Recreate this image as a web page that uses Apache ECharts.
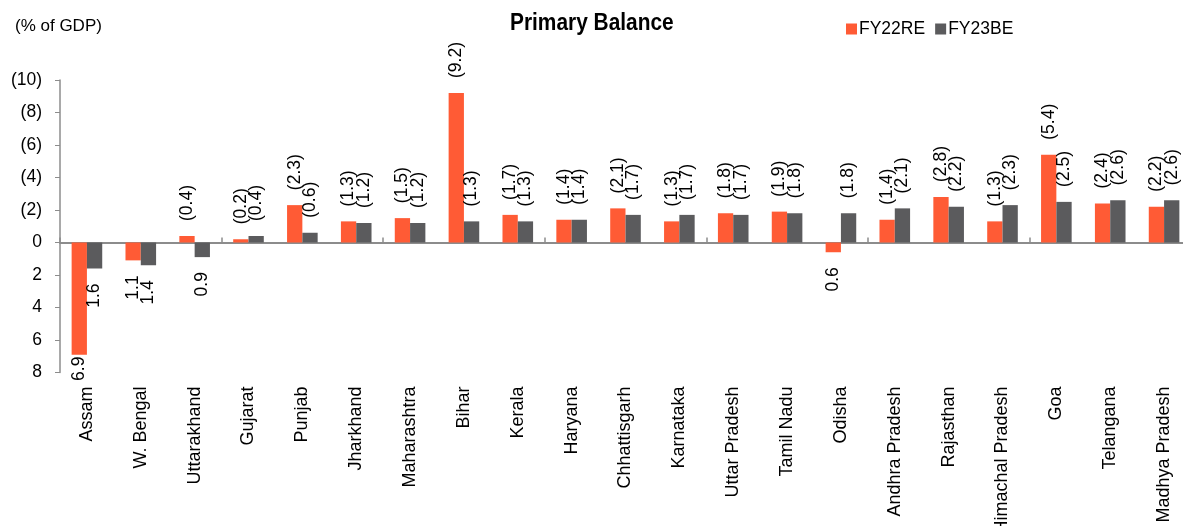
<!DOCTYPE html>
<html lang="en">
<head>
<meta charset="utf-8">
<title>Primary Balance</title>
<style>
  html, body { margin: 0; padding: 0; background: #fff; }
  #chartDiv { width: 1183px; height: 526px; }
</style>
</head>
<body>
<div id="chartDiv"></div>
<script src="https://cdn.jsdelivr.net/npm/echarts@6/dist/echarts.min.js"></script>
<script type="text/javascript">
// states on the x axis
var states = ['Assam', 'W. Bengal', 'Uttarakhand', 'Gujarat', 'Punjab', 'Jharkhand', 'Maharashtra',
  'Bihar', 'Kerala', 'Haryana', 'Chhattisgarh', 'Karnataka', 'Uttar Pradesh', 'Tamil Nadu', 'Odisha',
  'Andhra Pradesh', 'Rajasthan', 'Himachal Pradesh', 'Goa', 'Telangana', 'Madhya Pradesh'];
// primary balance, % of GDP (negative = deficit, drawn upward)
var fy22re = [6.9, 1.1, -0.4, -0.2, -2.3, -1.3, -1.5, -9.2, -1.7, -1.4, -2.1, -1.3, -1.8, -1.9, 0.6, -1.4, -2.8, -1.3, -5.4, -2.4, -2.2];
var fy23be = [1.6, 1.4, 0.9, -0.4, -0.6, -1.2, -1.2, -1.3, -1.3, -1.4, -1.7, -1.7, -1.7, -1.8, -1.8, -2.1, -2.2, -2.3, -2.5, -2.6, -2.6];

var FONT = "'Liberation Sans', Arial, sans-serif";

function fmt(v) {
  return v < 0 ? '(' + Math.abs(v).toFixed(1) + ')' : v.toFixed(1);
}

// label goes past the end of the bar, rotated to read upward
function barData(arr) {
  return arr.map(function (v) {
    var up = v < 0;
    return {
      value: v,
      label: {
        position: up ? 'top' : 'bottom',
        align: up ? 'left' : 'right',
        distance: v > 6 ? 2 : 15
      }
    };
  });
}

function makeSeries(name, arr, color) {
  return {
    name: name,
    type: 'bar',
    xAxisIndex: 0,
    barWidth: 15.3,
    barGap: 0,
    itemStyle: { color: color },
    label: {
      show: true,
      rotate: 90,
      verticalAlign: 'middle',
      color: '#000',
      fontSize: 17.5,
      fontFamily: FONT,
      formatter: function (p) { return fmt(p.value); }
    },
    data: barData(arr)
  };
}

var chart = echarts.init(document.getElementById('chartDiv'));
var option = {
  animation: false,
  textStyle: { fontFamily: FONT },
  graphic: [{
    type: 'text',
    left: 15,
    top: 18,
    style: { text: '(% of GDP)', fontSize: 17, fontFamily: FONT, fill: '#000' }
  }, {
    // title, squeezed a little to look like a narrow face
    type: 'text',
    x: 510,
    y: 11,
    scaleX: 0.87,
    style: { text: 'Primary Balance', fontSize: 24, fontWeight: 'bold', fontFamily: FONT, fill: '#000' }
  }],
  legend: {
    left: 841,
    top: 15,
    itemWidth: 11,
    itemHeight: 11,
    itemGap: 10,
    icon: 'rect',
    textStyle: { fontSize: 17.5, color: '#000', padding: [0, 0, 0, -3] },
    data: ['FY22RE', 'FY23BE']
  },
  grid: { left: 60, top: 80, width: 1131, height: 292.5, outerBoundsMode: 'none', containLabel: false },
  xAxis: [{
    // axis line at zero, ticks only
    type: 'category',
    data: states,
    axisLine: { onZero: true, lineStyle: { color: '#8c8c8c', width: 2 } },
    axisTick: { show: true, inside: true, length: 5, lineStyle: { color: '#8c8c8c', width: 1.5 } },
    axisLabel: { show: false }
  }, {
    // labels along the bottom of the plot
    type: 'category',
    data: states,
    position: 'bottom',
    axisLine: { show: false, onZero: false },
    axisTick: { show: false },
    axisLabel: { interval: 0, rotate: 90, margin: 14, fontSize: 18, color: '#000', fontFamily: FONT }
  }],
  yAxis: {
    type: 'value',
    inverse: true,
    min: -10,
    max: 8,
    interval: 2,
    splitLine: { show: false },
    axisLine: { show: true, lineStyle: { color: '#8c8c8c', width: 1.5 } },
    axisTick: { show: true, length: 5, lineStyle: { color: '#8c8c8c' } },
    axisLabel: {
      margin: 18,
      fontSize: 17.5,
      color: '#000',
      fontFamily: FONT,
      formatter: function (v) { return v < 0 ? '(' + Math.abs(v) + ')' : String(v); }
    }
  },
  series: [
    makeSeries('FY22RE', fy22re, '#FF5B35'),
    makeSeries('FY23BE', fy23be, '#5B5B5D')
  ]
};
chart.setOption(option);
</script>
</body>
</html>
